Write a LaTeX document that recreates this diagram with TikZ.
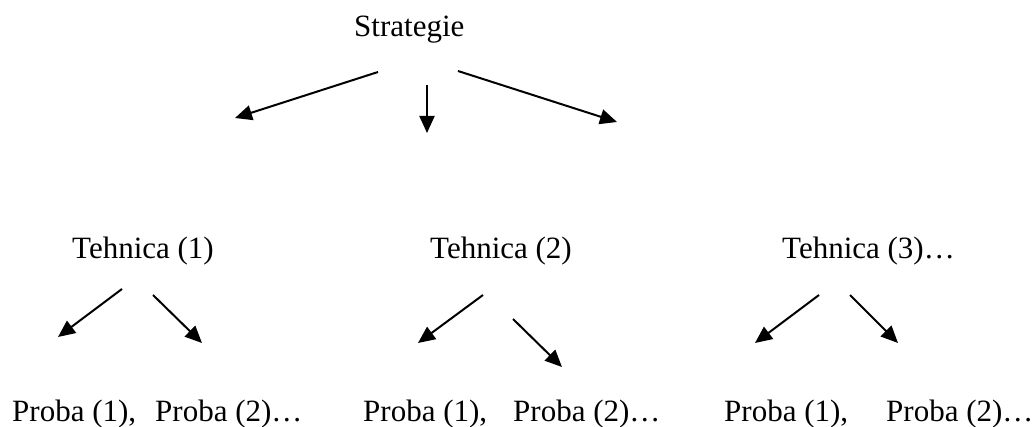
\documentclass[tikz,border=0pt]{standalone}
\usepackage{fontspec}
\setmainfont{Liberation Serif}
\usetikzlibrary{arrows.meta}
\begin{document}
\begin{tikzpicture}[x=1pt,y=-1pt,
  lbl/.style={inner sep=0pt,anchor=base west,font=\fontsize{31}{37}\selectfont},
  arr/.style={line width=2pt,-{Triangle[length=17pt,width=15pt]}}]
\useasboundingbox (0,0) rectangle (1034,427);

% root
\node[lbl] (strat) at (354,37) {Strategie};

% techniques
\node[lbl] (t1) at (72,259) {Tehnica (1)};
\node[lbl] (t2) at (430,259) {Tehnica (2)};
\node[lbl] (t3) at (782,259) {Tehnica (3)\dots};

% trials
\node[lbl] (p11) at (12,422) {Proba (1),};
\node[lbl] (p12) at (155,422) {Proba (2)\dots};
\node[lbl] (p21) at (363,422) {Proba (1),};
\node[lbl] (p22) at (513,422) {Proba (2)\dots};
\node[lbl] (p31) at (724,422) {Proba (1),};
\node[lbl] (p32) at (886,422) {Proba (2)\dots};

% arrow ends below the root
\coordinate (sa) at (378,72);  \coordinate (sb) at (235,118);
\coordinate (sc) at (427,85);  \coordinate (sd) at (427,133);
\coordinate (se) at (458,71);  \coordinate (sf) at (617,122);
\draw[arr] (sa) -- (sb);
\draw[arr] (sc) -- (sd);
\draw[arr] (se) -- (sf);

% arrow ends below each technique
\coordinate (a1) at (122,289); \coordinate (b1) at (58,337);
\coordinate (c1) at (153,295); \coordinate (d1) at (202,343);
\coordinate (a2) at (483,295); \coordinate (b2) at (418,343);
\coordinate (c2) at (513,319); \coordinate (d2) at (562,367);
\coordinate (a3) at (819,295); \coordinate (b3) at (755,343);
\coordinate (c3) at (850,295); \coordinate (d3) at (898,343);
\draw[arr] (a1) -- (b1);
\draw[arr] (c1) -- (d1);
\draw[arr] (a2) -- (b2);
\draw[arr] (c2) -- (d2);
\draw[arr] (a3) -- (b3);
\draw[arr] (c3) -- (d3);
\end{tikzpicture}
\end{document}
